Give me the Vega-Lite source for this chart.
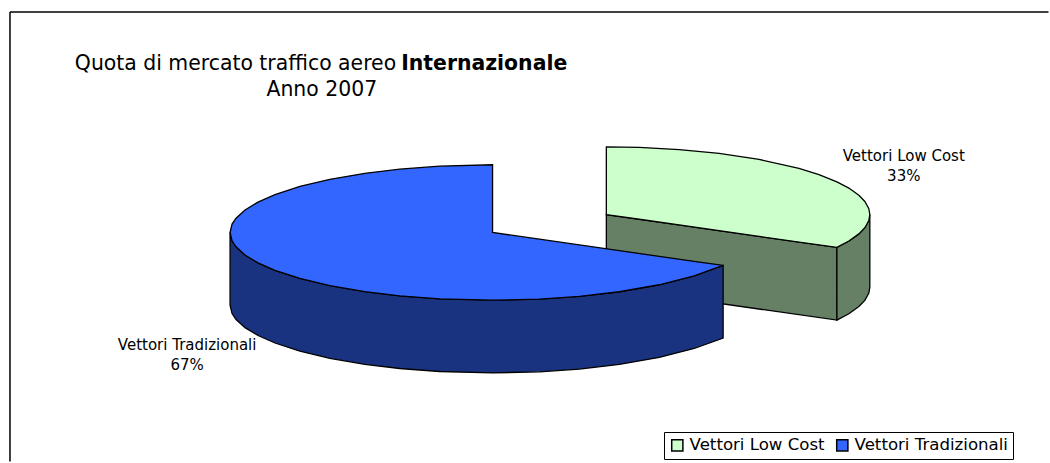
{"$schema":"https://vega.github.io/schema/vega-lite/v6.json","width":1050,"height":463,"padding":0,"autosize":{"type":"fit","contains":"padding"},"background":"white","view":{"stroke":null},
"datasets":{"faces":[
{"part":"green inner","series":"Vettori Low Cost","px":607,"top":215,"bottom":288},{"part":"green inner","series":"Vettori Low Cost","px":838,"top":248,"bottom":321},
{"part":"green side","series":"Vettori Low Cost","px":838,"top":248,"bottom":321},{"part":"green side","series":"Vettori Low Cost","px":850,"top":241.6,"bottom":314.6},{"part":"green side","series":"Vettori Low Cost","px":860,"top":234.4,"bottom":307.4},{"part":"green side","series":"Vettori Low Cost","px":866,"top":228.2,"bottom":301.2},{"part":"green side","series":"Vettori Low Cost","px":870,"top":220.9,"bottom":293.9},{"part":"green side","series":"Vettori Low Cost","px":871,"top":215,"bottom":288},
{"part":"green top","series":"Vettori Low Cost","px":607,"top":147,"bottom":215},{"part":"green top","series":"Vettori Low Cost","px":640,"top":147.5,"bottom":219.7},{"part":"green top","series":"Vettori Low Cost","px":680,"top":149.7,"bottom":225.4},{"part":"green top","series":"Vettori Low Cost","px":720,"top":153.5,"bottom":231.1},{"part":"green top","series":"Vettori Low Cost","px":760,"top":159.6,"bottom":236.9},{"part":"green top","series":"Vettori Low Cost","px":800,"top":168.6,"bottom":242.6},{"part":"green top","series":"Vettori Low Cost","px":820,"top":174.8,"bottom":245.4},{"part":"green top","series":"Vettori Low Cost","px":838,"top":182.1,"bottom":248},{"part":"green top","series":"Vettori Low Cost","px":850,"top":188.4,"bottom":241.6},{"part":"green top","series":"Vettori Low Cost","px":860,"top":195.6,"bottom":234.4},{"part":"green top","series":"Vettori Low Cost","px":866,"top":201.8,"bottom":228.2},{"part":"green top","series":"Vettori Low Cost","px":870,"top":209.1,"bottom":220.9},{"part":"green top","series":"Vettori Low Cost","px":871,"top":215,"bottom":215},
{"part":"blue side","series":"Vettori Tradizionali","px":230,"top":233,"bottom":306},{"part":"blue side","series":"Vettori Tradizionali","px":232,"top":241.4,"bottom":314.4},{"part":"blue side","series":"Vettori Tradizionali","px":236,"top":247.4,"bottom":320.4},{"part":"blue side","series":"Vettori Tradizionali","px":245,"top":255.6,"bottom":328.6},{"part":"blue side","series":"Vettori Tradizionali","px":258,"top":263.5,"bottom":336.5},{"part":"blue side","series":"Vettori Tradizionali","px":275,"top":271,"bottom":344},{"part":"blue side","series":"Vettori Tradizionali","px":300,"top":279.2,"bottom":352.2},{"part":"blue side","series":"Vettori Tradizionali","px":330,"top":286.4,"bottom":359.4},{"part":"blue side","series":"Vettori Tradizionali","px":365,"top":292.4,"bottom":365.4},{"part":"blue side","series":"Vettori Tradizionali","px":400,"top":296.6,"bottom":369.6},{"part":"blue side","series":"Vettori Tradizionali","px":440,"top":299.6,"bottom":372.6},{"part":"blue side","series":"Vettori Tradizionali","px":493,"top":301,"bottom":374},{"part":"blue side","series":"Vettori Tradizionali","px":540,"top":299.9,"bottom":372.9},{"part":"blue side","series":"Vettori Tradizionali","px":580,"top":297.2,"bottom":370.2},{"part":"blue side","series":"Vettori Tradizionali","px":620,"top":292.5,"bottom":365.5},{"part":"blue side","series":"Vettori Tradizionali","px":660,"top":285.5,"bottom":358.5},{"part":"blue side","series":"Vettori Tradizionali","px":695,"top":276.5,"bottom":349.5},{"part":"blue side","series":"Vettori Tradizionali","px":724,"top":266,"bottom":339},
{"part":"blue top","series":"Vettori Tradizionali","px":230,"top":233,"bottom":233},{"part":"blue top","series":"Vettori Tradizionali","px":232,"top":224.6,"bottom":241.4},{"part":"blue top","series":"Vettori Tradizionali","px":236,"top":218.6,"bottom":247.4},{"part":"blue top","series":"Vettori Tradizionali","px":245,"top":210.4,"bottom":255.6},{"part":"blue top","series":"Vettori Tradizionali","px":258,"top":202.5,"bottom":263.5},{"part":"blue top","series":"Vettori Tradizionali","px":275,"top":195,"bottom":271},{"part":"blue top","series":"Vettori Tradizionali","px":300,"top":186.8,"bottom":279.2},{"part":"blue top","series":"Vettori Tradizionali","px":330,"top":179.6,"bottom":286.4},{"part":"blue top","series":"Vettori Tradizionali","px":365,"top":173.6,"bottom":292.4},{"part":"blue top","series":"Vettori Tradizionali","px":400,"top":169.4,"bottom":296.6},{"part":"blue top","series":"Vettori Tradizionali","px":440,"top":166.4,"bottom":299.6},{"part":"blue top","series":"Vettori Tradizionali","px":493,"top":165,"bottom":301},{"part":"blue top","series":"Vettori Tradizionali","px":493,"top":233,"bottom":301},{"part":"blue top","series":"Vettori Tradizionali","px":540,"top":239.7,"bottom":299.9},{"part":"blue top","series":"Vettori Tradizionali","px":580,"top":245.5,"bottom":297.2},{"part":"blue top","series":"Vettori Tradizionali","px":620,"top":251.2,"bottom":292.5},{"part":"blue top","series":"Vettori Tradizionali","px":660,"top":257,"bottom":285.5},{"part":"blue top","series":"Vettori Tradizionali","px":695,"top":262,"bottom":276.5},{"part":"blue top","series":"Vettori Tradizionali","px":724,"top":266,"bottom":266}
],
"labels":[
{"kind":"title","px":74.5,"py":64,"text":"Quota di mercato traffico aereo"},
{"kind":"bold","px":401.5,"py":64,"text":"Internazionale"},
{"kind":"title","px":266.5,"py":90,"text":"Anno 2007"},
{"kind":"slice","px":905,"py":156,"text":"Vettori Low Cost"},
{"kind":"slice","px":905,"py":176,"text":"33%"},
{"kind":"slice","px":187,"py":346,"text":"Vettori Tradizionali"},
{"kind":"slice","px":187,"py":366,"text":"67%"}
],
"frame":[{"px":9.5,"py":11.5,"px2":9.5,"py2":463},{"px":9.5,"py":11.5,"px2":1050,"py2":11.5}]},
"encoding":{"x":{"field":"px","type":"quantitative","axis":null,"scale":{"domain":[-0.5,1049.5],"nice":false,"zero":false}},"y":{"field":"py","type":"quantitative","axis":null,"scale":{"domain":[462.5,-0.5],"nice":false,"zero":false}}},
"layer":[
{"data":{"name":"frame"},"mark":{"type":"rule","color":"black","strokeWidth":1.5},"encoding":{"x2":{"field":"px2"},"y2":{"field":"py2"}}},
{"data":{"name":"faces"},"transform":[{"filter":"datum.part=='green inner'"}],"mark":{"type":"area","orient":"vertical","fill":"#668066","stroke":"black","strokeWidth":1.3},"encoding":{"y":{"field":"top","type":"quantitative"},"y2":{"field":"bottom"}}},
{"data":{"name":"faces"},"transform":[{"filter":"datum.part=='green side'"}],"mark":{"type":"area","orient":"vertical","fill":"#668066","stroke":"black","strokeWidth":1.3},"encoding":{"y":{"field":"top","type":"quantitative"},"y2":{"field":"bottom"}}},
{"data":{"name":"faces"},"transform":[{"filter":"datum.part=='blue side'"}],"mark":{"type":"area","orient":"vertical","fill":"#1A3380","stroke":"black","strokeWidth":1.3},"encoding":{"y":{"field":"top","type":"quantitative"},"y2":{"field":"bottom"}}},
{"data":{"name":"faces"},"transform":[{"filter":"datum.part=='green top' || datum.part=='blue top'"}],"mark":{"type":"area","orient":"vertical","stroke":"black","strokeWidth":1.3},"encoding":{"y":{"field":"top","type":"quantitative"},"y2":{"field":"bottom"},"detail":{"field":"part"},"color":{"field":"series","type":"nominal","scale":{"domain":["Vettori Low Cost","Vettori Tradizionali"],"range":["#CCFFCC","#3366FF"]},"legend":{"title":null,"orient":"none","legendX":664,"legendY":432,"direction":"horizontal","columns":2,"symbolType":"square","symbolSize":125,"symbolStrokeColor":"black","symbolStrokeWidth":1.5,"symbolOpacity":1,"labelFont":"DejaVu Sans","labelFontSize":16.6,"labelColor":"black","labelLimit":300,"columnPadding":8,"padding":5,"strokeColor":"black","fillColor":"white"}}}},
{"data":{"name":"labels"},"transform":[{"filter":"datum.kind=='title'"}],"mark":{"type":"text","align":"left","baseline":"middle","font":"DejaVu Sans","fontSize":20.4,"color":"black"},"encoding":{"text":{"field":"text"}}},
{"data":{"name":"labels"},"transform":[{"filter":"datum.kind=='bold'"}],"mark":{"type":"text","align":"left","baseline":"middle","font":"DejaVu Sans","fontSize":20.4,"fontWeight":"bold","color":"black"},"encoding":{"text":{"field":"text"}}},
{"data":{"name":"labels"},"transform":[{"filter":"datum.kind=='slice'"}],"mark":{"type":"text","align":"center","baseline":"middle","font":"DejaVu Sans","fontSize":15,"color":"black"},"encoding":{"text":{"field":"text"}}}
]}
